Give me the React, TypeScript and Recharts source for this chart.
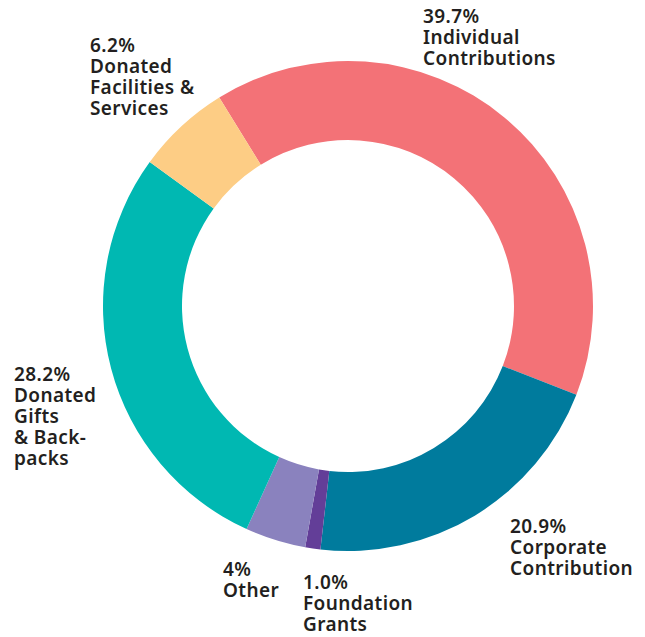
import { Cell, Pie, PieChart } from "recharts";

const categories = [
  "Individual Contributions",
  "Corporate Contributions",
  "Foundation Grants",
  "Other",
  "Donated Gifts & Backpacks",
  "Donated Facilities & Services",
];
const shares = [39.7, 20.9, 1.0, 4, 28.2, 6.2];
const percentLabels = ["39.7%", "20.9%", "1.0%", "4%", "28.2%", "6.2%"];
const nameLines = [
  ["Individual", "Contributions"],
  ["Corporate", "Contribution"],
  ["Foundation", "Grants"],
  ["Other"],
  ["Donated", "Gifts", "& Back-", "packs"],
  ["Donated", "Facilities &", "Services"],
];
const colors = ["#f37277", "#007b9d", "#633e98", "#8a82be", "#00b8b2", "#fdcd85"];

// label block anchor: left x, baseline of first line
const labelSpots = [
  { x: 423, y: 23 },
  { x: 510, y: 533 },
  { x: 303, y: 589 },
  { x: 223, y: 576 },
  { x: 14, y: 381 },
  { x: 90, y: 52 },
];

const data = categories.map((name, i) => ({ name, value: shares[i] }));

const LINE = 21;

function SliceLabel({ index }: { index: number }) {
  const spot = labelSpots[index];
  const lines = [percentLabels[index], ...nameLines[index]];
  return (
    <text
      x={spot.x}
      y={spot.y}
      fill="#231f20"
      fontSize={19}
      fontWeight={600}
      letterSpacing={0.4}
      fontFamily="'Noto Sans', sans-serif"
      textAnchor="start"
    >
      {lines.map((l, k) => (
        <tspan key={k} x={spot.x} dy={k === 0 ? 0 : LINE}>
          {l}
        </tspan>
      ))}
    </text>
  );
}

export default function App() {
  return (
    <div style={{ position: "absolute", left: 0, top: 0, background: "#fff" }}>
      <PieChart width={645} height={637} margin={{ top: 0, right: 0, bottom: 0, left: 0 }}>
        <Pie
          data={data}
          dataKey="value"
          nameKey="name"
          cx={348}
          cy={306}
          innerRadius={166}
          outerRadius={245}
          startAngle={121.7}
          endAngle={-238.3}
          stroke="none"
          labelLine={false}
          label={(p: any) => <SliceLabel index={p.index} />}
          isAnimationActive={false}
        >
          {data.map((d, i) => (
            <Cell key={d.name} fill={colors[i]} />
          ))}
        </Pie>
      </PieChart>
    </div>
  );
}
